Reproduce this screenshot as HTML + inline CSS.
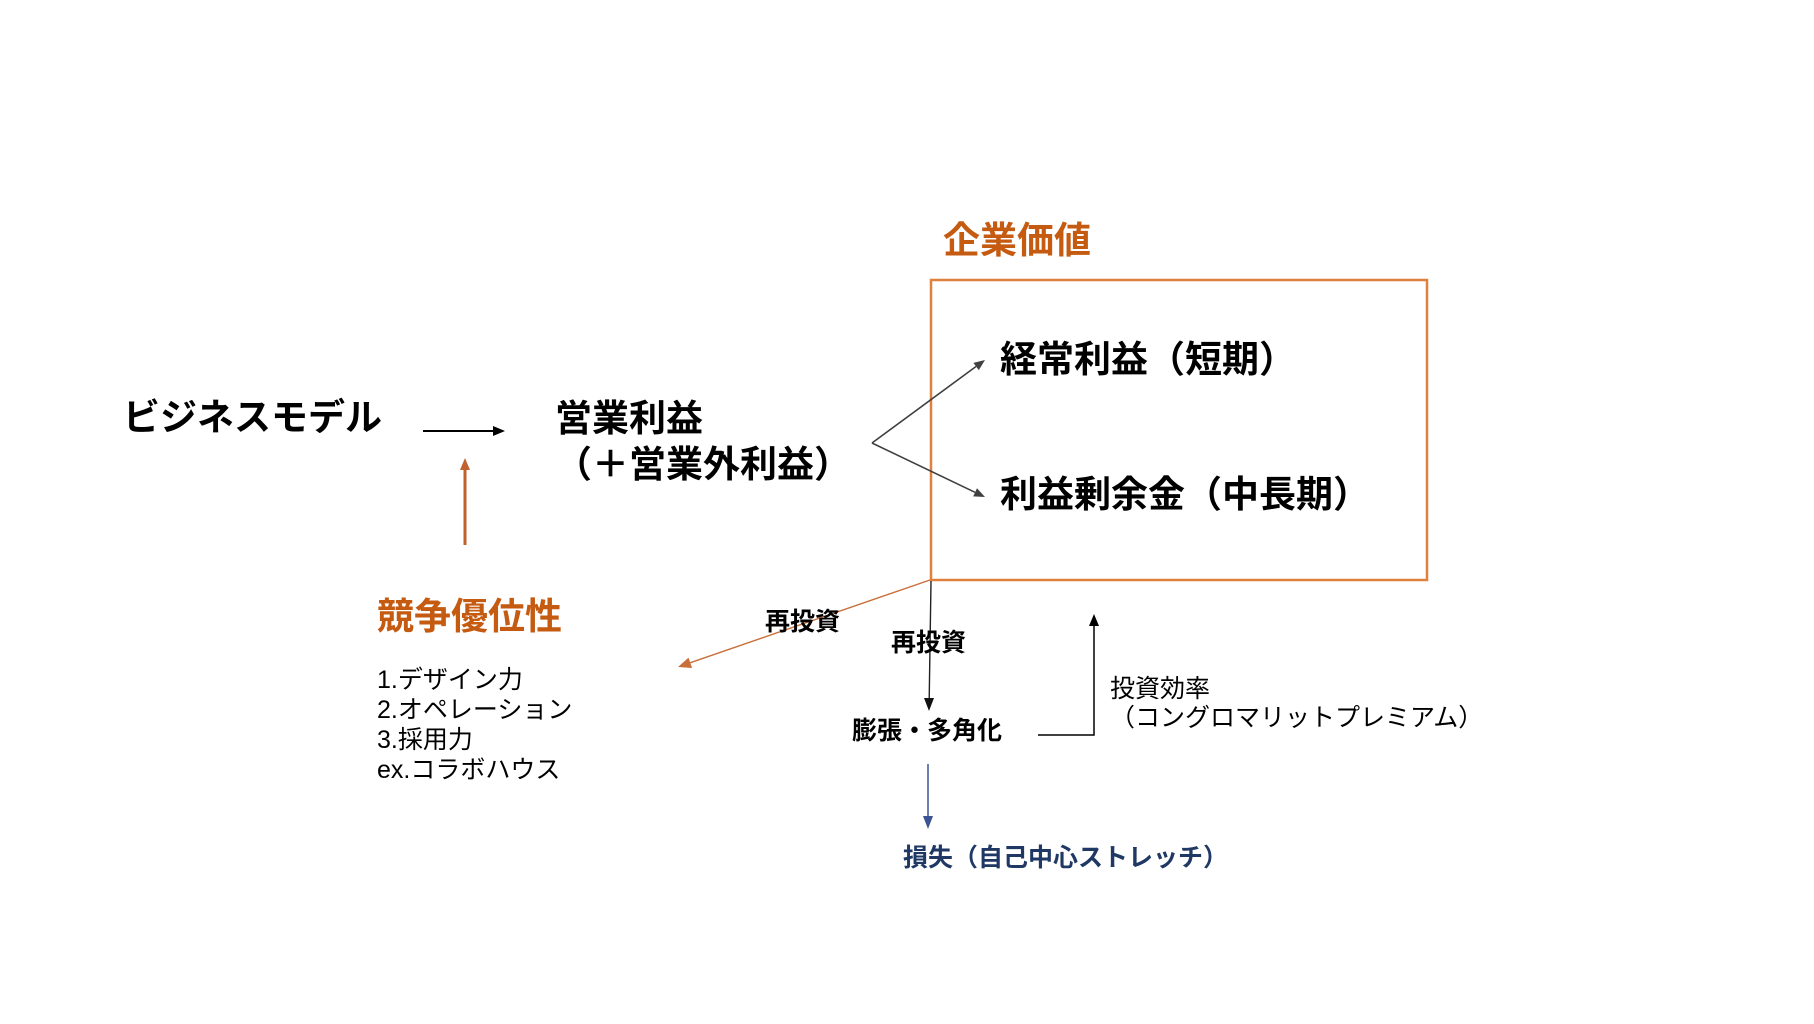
<!DOCTYPE html>
<html>
<head>
<meta charset="utf-8">
<style>
html,body{margin:0;padding:0;background:#fff;}
#c{position:relative;width:1814px;height:1024px;overflow:hidden;background:#fff;font-family:"Liberation Sans","Noto Sans CJK JP",sans-serif;}
.t{position:absolute;white-space:nowrap;line-height:1;color:#000;}
.b{font-weight:bold;}
.f37{font-size:37px;}
.f25{font-size:25px;}
.or{color:#c55a11;}
.nv{color:#1f3864;}
svg{position:absolute;left:0;top:0;}
</style>
</head>
<body>
<div id="c">
<svg width="1814" height="1024" viewBox="0 0 1814 1024">
  <!-- box -->
  <rect x="931" y="280" width="496" height="300" fill="none" stroke="#e0803e" stroke-width="2.5"/>
  <!-- business model arrow -->
  <line x1="423" y1="431" x2="494" y2="431" stroke="#000" stroke-width="2"/>
  <polygon points="505,431 493,426 493,436" fill="#000"/>
  <!-- orange up arrow -->
  <line x1="465" y1="545" x2="465" y2="469" stroke="#c0622d" stroke-width="3"/>
  <polygon points="465,458 460,470 470,470" fill="#c0622d"/>
  <!-- branch arrows -->
  <line x1="872" y1="443" x2="976" y2="366.5" stroke="#404040" stroke-width="1.6"/>
  <polygon points="985,360 978.8,370.1 973.4,362.9" fill="#404040"/>
  <line x1="872" y1="443" x2="975" y2="492.3" stroke="#404040" stroke-width="1.6"/>
  <polygon points="985,497 973.2,496.4 977,488.2" fill="#404040"/>
  <!-- orange diagonal -->
  <line x1="930" y1="580" x2="690" y2="662.8" stroke="#c8703a" stroke-width="1.4"/>
  <polygon points="678,667 688.5,657.6 692.1,668" fill="#c8703a"/>
  <!-- black down -->
  <line x1="931" y1="581" x2="929.2" y2="699" stroke="#222" stroke-width="1.4"/>
  <polygon points="929,711 924,698 934,698" fill="#111"/>
  <!-- elbow -->
  <polyline points="1038,735 1094,735 1094,625" fill="none" stroke="#000" stroke-width="1.5"/>
  <polygon points="1094,614 1089,626 1099,626" fill="#000"/>
  <!-- blue -->
  <line x1="928" y1="764" x2="928" y2="817" stroke="#3b5594" stroke-width="1.5"/>
  <polygon points="928,829 923,816 933,816" fill="#3b5594"/>
</svg>

<div class="t b f37" style="left:123px;top:399px;">ビジネスモデル</div>
<div class="t b f37" style="left:555px;top:399.5px;">営業利益</div>
<div class="t b f37" style="left:555px;top:446px;">（＋営業外利益）</div>

<div class="t b f37 or" style="left:943px;top:222px;">企業価値</div>
<div class="t b f37" style="left:1000px;top:341px;">経常利益（短期）</div>
<div class="t b f37" style="left:1000px;top:476px;">利益剰余金（中長期）</div>

<div class="t b f37 or" style="left:377px;top:598px;">競争優位性</div>
<div class="t f25" style="left:377px;top:665px;line-height:30px;">1.デザイン力<br>2.オペレーション<br>3.採用力<br>ex.コラボハウス</div>

<div class="t b f25" style="left:765px;top:609.5px;">再投資</div>
<div class="t b f25" style="left:891px;top:630.5px;">再投資</div>
<div class="t b f25" style="left:852px;top:718.5px;">膨張・多角化</div>

<div class="t f25" style="left:1110px;top:676.5px;">投資効率</div>
<div class="t f25" style="left:1110px;top:705.5px;">（コングロマリットプレミアム）</div>

<div class="t b f25 nv" style="left:903px;top:845.5px;">損失（自己中心ストレッチ）</div>
</div>
</body>
</html>
